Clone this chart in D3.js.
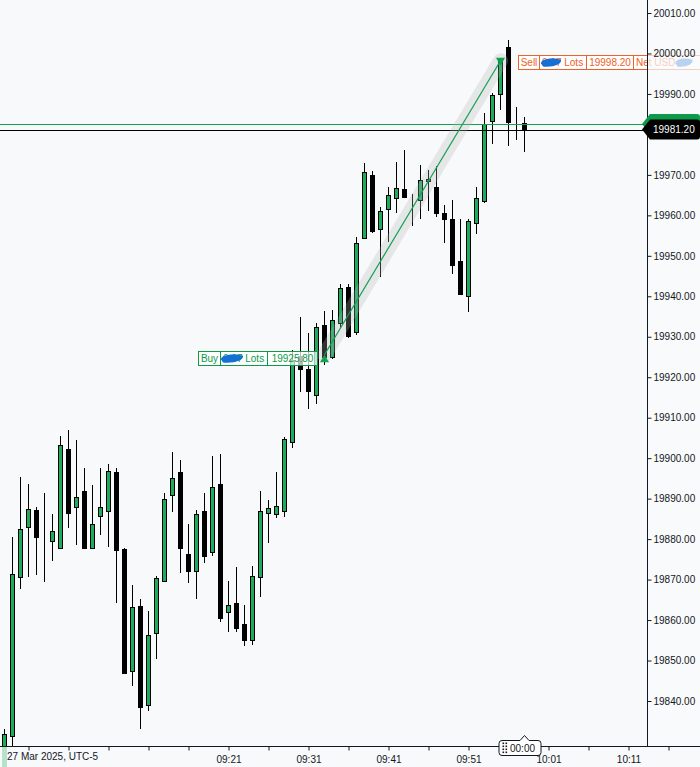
<!DOCTYPE html>
<html>
<head>
<meta charset="utf-8">
<script src="https://cdn.jsdelivr.net/npm/d3@7/dist/d3.min.js"></script>
<style>
  html, body { margin: 0; padding: 0; background: #f8f9fb; }
  svg { display: block; font-family: "Liberation Sans", Arial, sans-serif; }
</style>
</head>
<body>
<div id="chart"></div>
<script>
const times = [
  '08:53', '08:54', '08:55', '08:56', '08:57', '08:58', '08:59', '09:00', '09:01', '09:02', '09:03',
  '09:04', '09:05', '09:06', '09:07', '09:08', '09:09', '09:10', '09:11', '09:12', '09:13', '09:14',
  '09:15', '09:16', '09:17', '09:18', '09:19', '09:20', '09:21', '09:22', '09:23', '09:24', '09:25',
  '09:26', '09:27', '09:28', '09:29', '09:30', '09:31', '09:32', '09:33', '09:34', '09:35', '09:36',
  '09:37', '09:38', '09:39', '09:40', '09:41', '09:42', '09:43', '09:44', '09:45', '09:46', '09:47',
  '09:48', '09:49', '09:50', '09:51', '09:52', '09:53', '09:54', '09:55', '09:56', '09:57', '09:58',
];
const opens = [
  19828.5, 19831.25, 19870.75, 19883, 19887.25, 19880, 19879.5, 19877.75, 19902.25, 19888, 19892,
  19877.75, 19885.75, 19887, 19896.5, 19877.5, 19847.5, 19863.5, 19839, 19856.75, 19869.75, 19891,
  19896.5, 19876.25, 19872, 19887, 19876.75, 19893.5, 19862, 19864.25, 19859, 19855, 19870.75,
  19886.5, 19886.25, 19887, 19904, 19925.25, 19922, 19915.5, 19933, 19925, 19933.5, 19942.25,
  19931.25, 19954.5, 19970, 19956.75, 19961.5, 19964.25, 19966.5, 19963.5, 19963.75, 19968.5, 19967,
  19960.5, 19959, 19948.75, 19940, 19958, 19963.5, 19983.25, 19990, 20001.5, 19983, 19982.75,
];
const highs = [
  19833, 19880.5, 19895.25, 19893.5, 19888, 19891.5, 19886.25, 19905.5, 19907, 19904.5, 19897.5,
  19893.25, 19897.5, 19898.5, 19897.5, 19877.75, 19868.75, 19865.25, 19862.25, 19871, 19891.5, 19901.5,
  19899.5, 19883.75, 19887.25, 19891.5, 19900.5, 19901, 19869.75, 19873, 19863.75, 19873.25, 19892,
  19889.75, 19896.5, 19905.25, 19926.75, 19935, 19931, 19933.5, 19936.25, 19936.5, 19943, 19943,
  19954.75, 19973, 19971, 19962, 19967, 19973.25, 19976.25, 19965.25, 19972.5, 19971.25, 19972.25,
  19962.5, 19963.75, 19959, 19959, 19967, 19985.25, 19990.25, 19999, 20003.25, 19986.75, 19984.25,
];
const lows = [
  19827.5, 19829, 19867.75, 19870.75, 19871.25, 19869.5, 19874.5, 19877.5, 19882.75, 19878.5, 19877.5,
  19877.5, 19881, 19878, 19864.25, 19847, 19843.75, 19833, 19837.5, 19850.5, 19869.5, 19886.75,
  19871.75, 19869.25, 19865.25, 19874, 19875.75, 19859.5, 19857, 19857, 19853.5, 19853.75, 19865.75,
  19879, 19885.25, 19885.5, 19902.5, 19916.25, 19912.25, 19913.5, 19923, 19924.5, 19932.25, 19929.75,
  19930.5, 19954.25, 19955.75, 19944.75, 19953.5, 19960.5, 19964.25, 19957.25, 19959, 19961, 19959.5,
  19953.25, 19945.5, 19940.25, 19936, 19955.5, 19963, 19977.75, 19986, 19977.25, 19978.5, 19975.75,
];
const closes = [
  19831.75, 19871.5, 19882.5, 19887.5, 19880.5, 19880, 19882, 19903.25, 19886.5, 19890.5, 19877.75,
  19883.75, 19888, 19896.75, 19877.25, 19847, 19863.25, 19838.5, 19856.25, 19870.5, 19890, 19895,
  19877.75, 19872, 19886.25, 19875.75, 19893, 19860.5, 19863.75, 19858, 19855, 19871, 19887,
  19887.75, 19888.25, 19904.75, 19924.25, 19922, 19916.5, 19932.5, 19925, 19934.25, 19942, 19930.25,
  19953.25, 19970.75, 19956.25, 19961, 19965, 19966.75, 19964.5, 19963.5, 19968.75, 19969, 19960.5,
  19959, 19947.75, 19940.5, 19958.5, 19964.25, 19982.5, 19989.75, 19998.75, 19983, 19983, 19981.2,
];

const priceTicks = [
  19840, 19850, 19860, 19870, 19880, 19890, 19900, 19910, 19920,
  19930, 19940, 19950, 19960, 19970, 19980, 19990, 20000, 20010,
];
const timeTicks = [
  '08:56', '09:01', '09:06', '09:11', '09:16', '09:21', '09:26', '09:31', '09:36', '09:41',
  '09:46', '09:51', '09:56', '10:01', '10:06', '10:11', '10:16',
];
const timeLabels = ['09:21', '09:31', '09:41', '09:51', '10:01', '10:11'];
const dateLabel = '27 Mar 2025, UTC-5';
const day = '2025-03-27';

const lastPrice = 19981.2;
const askPrice = 19982.6;
const buyTrade = { time: '09:33', price: 19925.8, lots: '0.07 Lots' };
const sellTrade = { time: '09:55', price: 19998.2, lots: '0.07 Lots' };
const countdown = { time: '09:58', text: '00:00' };

const GREEN = '#1dab5c';
const LINE_GREEN = '#13a04f';
const SELL = '#f0602a';
const BG = '#f8f9fb';
const INK = '#131722';

const width = 700;
const height = 767;
const plotW = 647;
const plotH = 746;

const parse = d3.timeParse('%Y-%m-%d %H:%M');
const t = (hm) => parse(`${day} ${hm}`);

const candles = times.map((hm, i) => ({
  date: t(hm), open: opens[i], high: highs[i], low: lows[i], close: closes[i],
}));

const x = d3.scaleTime().domain([t('08:53'), t('10:11')]).range([4.5, 628.5]);
const y = d3.scaleLinear().domain([19840, 20010]).range([701, 13]);
const px = (v) => Math.round(v) + 0.5;

const svg = d3.select('#chart').append('svg').attr('width', width).attr('height', height);
svg.append('rect').attr('width', width).attr('height', height).attr('fill', BG);

svg.append('clipPath').attr('id', 'plot-clip')
  .append('rect').attr('width', plotW).attr('height', plotH);

const plot = svg.append('g').attr('clip-path', 'url(#plot-clip)');

const bx = x(t(buyTrade.time));
const by = y(buyTrade.price);
const sx = x(t(sellTrade.time));
const sy = y(sellTrade.price);

// candles
const candle = plot.selectAll('.candle').data(candles).join('g').attr('class', 'candle');

candle.append('line')
  .attr('x1', (d) => x(d.date))
  .attr('x2', (d) => x(d.date))
  .attr('y1', (d) => Math.round(y(d.high)))
  .attr('y2', (d) => Math.round(y(d.low)))
  .attr('stroke', '#000')
  .attr('stroke-width', 1);

candle.append('rect')
  .attr('x', (d) => x(d.date) - 2)
  .attr('width', 4)
  .attr('y', (d) => px(y(Math.max(d.open, d.close))))
  .attr('height', (d) => Math.max(0, px(y(Math.min(d.open, d.close))) - px(y(Math.max(d.open, d.close)))))
  .attr('fill', (d) => (d.close > d.open ? GREEN : '#000'))
  .attr('stroke', '#000')
  .attr('stroke-width', 1);

// horizontal price lines
plot.append('line')
  .attr('x1', 0).attr('x2', plotW)
  .attr('y1', px(y(askPrice))).attr('y2', px(y(askPrice)))
  .attr('stroke', LINE_GREEN).attr('stroke-width', 1);

plot.append('line')
  .attr('x1', 0).attr('x2', plotW)
  .attr('y1', px(y(lastPrice))).attr('y2', px(y(lastPrice)))
  .attr('stroke', '#000').attr('stroke-width', 1);

// trade band + connector
plot.append('line')
  .attr('x1', bx).attr('y1', by + 1)
  .attr('x2', sx).attr('y2', sy)
  .attr('stroke', 'rgba(175,182,182,0.28)')
  .attr('stroke-width', 15)
  .attr('stroke-linecap', 'round');

plot.append('line')
  .attr('x1', bx).attr('y1', by + 1)
  .attr('x2', sx).attr('y2', sy)
  .attr('stroke', LINE_GREEN)
  .attr('stroke-width', 1.2);

plot.append('path')
  .attr('d', `M${bx},${by + 1}L${bx + 4.5},${by + 8.5}L${bx - 4.5},${by + 8.5}Z`)
  .attr('fill', LINE_GREEN);

plot.append('path')
  .attr('d', `M${sx - 4.5},${sy - 3}L${sx + 4.5},${sy - 3}L${sx},${sy + 5}Z`)
  .attr('fill', LINE_GREEN);

function blob(g, cx, cy, w, h) {
  g.append('path')
    .attr('d', `M${cx - w / 2},${cy + h * 0.1}
      C${cx - w / 2},${cy - h / 2} ${cx + w * 0.1},${cy - h / 2 - 1} ${cx + w / 2},${cy - h * 0.35}
      C${cx + w / 2 + 1},${cy + h * 0.2} ${cx + w * 0.1},${cy + h / 2 + 1} ${cx - w / 2 + 2},${cy + h / 2}
      Z`)
    .attr('fill', '#1570d6');
}

function tradeLabel(g, x0, yc, cells, color) {
  const h = 14;
  const top = Math.round(yc - h / 2) + 0.5;
  let cx = x0;
  cells.forEach((c) => {
    g.append('rect')
      .attr('x', cx + 0.5).attr('y', top)
      .attr('width', c.w).attr('height', h)
      .attr('fill', 'rgba(255,255,255,0.72)')
      .attr('stroke', color).attr('stroke-width', 1);
    g.append('text')
      .attr('x', cx + (c.anchor === 'start' ? 3 : c.w / 2 + 0.5))
      .attr('y', top + h / 2 + 3.6)
      .attr('text-anchor', c.anchor || 'middle')
      .attr('font-size', 10)
      .attr('fill', color)
      .text(c.text);
    if (c.blob) blob(g, cx + c.blob[0], top + h / 2, c.blob[1], 8);
    cx += c.w;
  });
}

const labels = svg.append('g');
tradeLabel(labels, Math.round(bx) - 126, by + 4, [
  { text: 'Buy', w: 22 },
  { text: buyTrade.lots, w: 47, anchor: 'start', blob: [12, 22] },
  { text: d3.format('.2f')(buyTrade.price), w: 50 },
], '#11994b');

tradeLabel(labels, Math.round(sx) + 18, sy + 1, [
  { text: 'Sell', w: 21 },
  { text: sellTrade.lots, w: 47, anchor: 'start', blob: [12, 20] },
  { text: d3.format('.2f')(sellTrade.price), w: 47 },
  { text: 'Net USD', w: 100, anchor: 'start', blob: [51, 17] },
], SELL);

// right price panel fades whatever runs under it
svg.append('rect')
  .attr('x', plotW + 1).attr('y', 0)
  .attr('width', width - plotW).attr('height', plotH)
  .attr('fill', BG).attr('opacity', 0.72);

// axes; the tick label hidden under the live price tags is left blank
const tagged = (v) => Math.abs(y(v) - y(lastPrice)) < 12;

const yAxis = svg.append('g')
  .attr('transform', `translate(${plotW + 0.5},0)`)
  .call(d3.axisRight(y)
    .tickValues(priceTicks)
    .tickSize(4)
    .tickPadding(2)
    .tickFormat((v) => (tagged(v) ? '' : d3.format('.2f')(v))));
yAxis.select('.domain').remove();
yAxis.selectAll('text').attr('font-size', 10).attr('fill', INK).attr('font-family', null);
yAxis.selectAll('line').attr('stroke', INK);

svg.append('line')
  .attr('x1', plotW + 0.5).attr('x2', plotW + 0.5)
  .attr('y1', 0).attr('y2', plotH)
  .attr('stroke', INK);

const xAxis = svg.append('g')
  .attr('transform', `translate(0,${plotH + 0.5})`)
  .call(d3.axisBottom(x)
    .tickValues(timeTicks.map(t))
    .tickSize(4)
    .tickPadding(5)
    .tickFormat((d) => {
      const s = d3.timeFormat('%H:%M')(d);
      return timeLabels.includes(s) ? s : '';
    }));
xAxis.select('.domain').remove();
xAxis.selectAll('text').attr('font-size', 10).attr('fill', INK).attr('font-family', null);
xAxis.selectAll('line').attr('stroke', INK);

svg.append('line')
  .attr('x1', 0).attr('x2', width)
  .attr('y1', plotH + 0.5).attr('y2', plotH + 0.5)
  .attr('stroke', INK);

svg.append('rect')
  .attr('x', 2).attr('y', plotH + 1)
  .attr('width', 5).attr('height', height - plotH)
  .attr('fill', 'rgba(29,171,92,0.3)');

svg.append('text')
  .attr('x', 7).attr('y', 760)
  .attr('font-size', 10).attr('fill', INK)
  .text(dateLabel);

// price tags on the axis: the green ask tag sits behind the black last-price tag
function priceTag(price, fill, withText) {
  const yc = y(price);
  const g = svg.append('g');
  g.append('path')
    .attr('d', `M${plotW - 5},${yc} L${plotW + 3},${yc - 10} H${width - 3} Q${width},${yc - 10} ${width},${yc - 7}
      V${yc + 7} Q${width},${yc + 10} ${width - 3},${yc + 10} H${plotW + 3} Z`)
    .attr('fill', fill);
  if (withText) {
    g.append('text')
      .attr('x', 653).attr('y', yc + 3.6)
      .attr('font-size', 10).attr('fill', '#fff')
      .text(d3.format('.2f')(price));
  }
}
priceTag(askPrice, '#0e9a4a', false);
priceTag(lastPrice, '#000', true);

// countdown box
const cdx = x(t(countdown.time));
const cd = svg.append('g');
cd.append('path')
  .attr('d', `M${cdx - 25.5},${743.5} Q${cdx - 25.5},740.5 ${cdx - 22.5},740.5 H${cdx - 4.5} L${cdx},735.5 L${cdx + 4.5},740.5
    H${cdx + 13.5} Q${cdx + 16.5},740.5 ${cdx + 16.5},743.5 V752.5 Q${cdx + 16.5},755.5 ${cdx + 13.5},755.5
    H${cdx - 22.5} Q${cdx - 25.5},755.5 ${cdx - 25.5},752.5 Z`)
  .attr('fill', '#fff').attr('stroke', INK).attr('stroke-width', 1);
[0, 1].forEach((c) => [0, 1, 2, 3].forEach((r) => {
  cd.append('rect')
    .attr('x', cdx - 22 + c * 3).attr('y', 742.5 + r * 3)
    .attr('width', 1.6).attr('height', 1.6)
    .attr('fill', INK);
}));
cd.append('text')
  .attr('x', cdx - 2).attr('y', 751.5)
  .attr('text-anchor', 'middle')
  .attr('font-size', 10).attr('fill', INK)
  .text(countdown.text);
</script>
</body>
</html>
